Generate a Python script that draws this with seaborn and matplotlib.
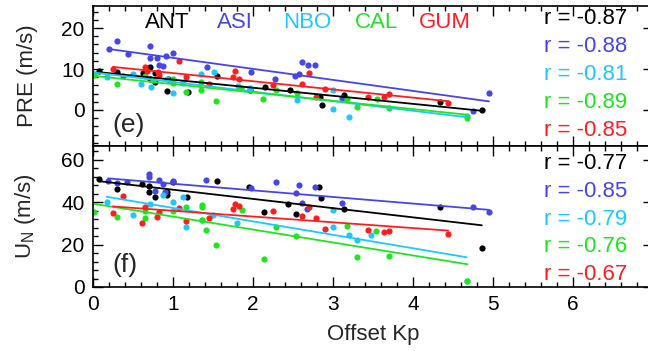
import numpy as np
import pandas as pd
import matplotlib
matplotlib.use("Agg")
import matplotlib.pyplot as plt
from matplotlib.ticker import MultipleLocator
import seaborn as sns

# ---------------- data ----------------
stations = ["ANT", "ASI", "NBO", "CAL", "GUM"]
colors = ["#000000", "#4646e6", "#1ec8ff", "#1ee61e", "#ff1e1e"]
r_pre = ["-0.87", "-0.88", "-0.81", "-0.89", "-0.85"]
r_un = ["-0.77", "-0.85", "-0.79", "-0.76", "-0.67"]

# panel (e): PRE (m/s) vs offset Kp
ant_e_x = [0.08, 0.30, 0.62, 0.71, 0.71, 0.78, 0.78, 0.93, 0.94, 1.19, 1.55, 1.96, 2.15, 2.46, 2.84, 2.86, 3.14, 4.34, 4.86]
ant_e_y = [9.5, 9.3, 9.1, 10.6, 7.5, 9.1, 6.9, 4.7, 7.5, 4.3, 8.4, 5.0, 5.7, 5.0, 3.2, 1.2, 3.7, 2.0, 0.0]
asi_e_x = [0.20, 0.30, 0.44, 0.71, 0.71, 0.80, 0.83, 0.88, 0.91, 1.00, 1.42, 1.98, 2.28, 2.53, 2.57, 2.61, 2.69, 2.78, 3.11, 4.75, 4.95]
asi_e_y = [14.8, 16.9, 13.7, 15.6, 12.6, 12.6, 11.1, 10.7, 13.2, 14.0, 10.6, 9.3, 7.6, 8.3, 8.8, 11.8, 11.0, 11.0, 2.9, -0.3, 4.2]
nbo_e_x = [0.01, 0.18, 0.50, 0.60, 0.72, 0.93, 1.00, 1.00, 1.13, 1.35, 1.51, 1.81, 1.96, 2.55, 3.00, 3.00, 3.20, 4.67]
nbo_e_y = [8.8, 8.1, 8.9, 6.3, 5.5, 7.5, 7.3, 4.2, 6.5, 8.9, 9.3, 5.9, 5.3, 2.5, 4.8, 0.2, -1.6, -1.5]
cal_e_x = [0.01, 0.30, 0.65, 0.75, 1.00, 1.00, 1.16, 1.35, 1.35, 1.54, 1.85, 2.13, 2.29, 2.55, 3.18, 3.30, 3.55, 3.70, 4.67]
cal_e_y = [8.5, 6.4, 8.4, 7.3, 6.5, 7.5, 4.5, 6.9, 4.9, 2.2, 5.4, 2.7, 5.0, 4.1, 2.6, 0.7, 2.7, 0.4, -2.0]
gum_e_x = [0.25, 0.37, 0.65, 0.67, 0.81, 0.83, 1.08, 1.16, 1.45, 1.75, 1.78, 1.83, 2.25, 2.61, 2.70, 2.79, 2.90, 3.44, 3.64, 3.70, 4.44]
gum_e_y = [10.1, 8.3, 10.4, 9.6, 9.3, 8.5, 11.9, 8.0, 6.3, 8.1, 9.5, 7.5, 6.2, 6.4, 9.0, 3.2, 5.1, 3.1, 3.2, 3.9, 1.6]

# panel (f): U_N (m/s) vs offset Kp
ant_f_x = [0.08, 0.30, 0.61, 0.70, 0.70, 0.78, 0.93, 0.93, 1.00, 1.18, 1.55, 1.95, 2.14, 2.44, 2.54, 2.83, 2.85, 3.14, 4.34, 4.86]
ant_f_y = [50.8, 46.1, 48.6, 47.6, 45.0, 42.6, 45.0, 43.5, 49.7, 42.6, 50.1, 47.0, 35.2, 39.2, 34.4, 47.0, 41.8, 36.6, 37.6, 18.5]
asi_f_x = [0.19, 0.30, 0.43, 0.70, 0.70, 0.78, 0.83, 0.87, 0.90, 1.00, 1.41, 1.97, 2.29, 2.54, 2.57, 2.61, 2.68, 2.77, 3.11, 4.75, 4.95]
asi_f_y = [50.1, 49.2, 49.7, 53.3, 51.7, 45.4, 50.5, 48.6, 45.0, 50.1, 50.5, 46.5, 49.7, 44.2, 48.1, 39.5, 36.6, 47.0, 39.8, 37.6, 35.5]
nbo_f_x = [0.17, 0.50, 0.71, 0.88, 1.00, 1.13, 1.16, 1.36, 1.50, 1.80, 3.00, 3.00, 3.20, 3.30, 3.48, 4.67]
nbo_f_y = [40.2, 34.0, 39.2, 43.4, 40.2, 42.6, 28.2, 31.6, 34.0, 30.3, 36.3, 28.2, 24.5, 22.2, 24.5, 3.0]
cal_f_x = [0.01, 0.30, 0.65, 0.65, 1.00, 1.16, 1.36, 1.36, 1.36, 1.41, 1.54, 1.86, 2.14, 2.29, 2.54, 3.18, 3.30, 3.54, 3.70, 4.68]
cal_f_y = [35.5, 32.9, 36.0, 32.4, 36.0, 37.6, 38.7, 37.6, 31.6, 26.9, 19.8, 36.3, 13.1, 28.2, 24.1, 28.8, 14.3, 26.6, 14.6, 3.0]
gum_f_x = [0.25, 0.37, 0.61, 0.65, 0.80, 0.83, 1.08, 1.16, 1.45, 1.75, 1.78, 1.83, 2.25, 2.61, 2.70, 2.79, 2.90, 3.44, 3.64, 3.70, 4.44]
gum_f_y = [35.1, 42.9, 30.0, 37.9, 32.9, 35.5, 37.1, 31.3, 32.4, 36.6, 39.2, 38.2, 36.0, 33.5, 37.9, 32.4, 27.2, 26.9, 26.1, 26.6, 24.8]


def build(pairs):
    frames = []
    for st, (xs, ys) in zip(stations, pairs):
        frames.append(pd.DataFrame({"kp": xs, "v": ys, "station": st}))
    return pd.concat(frames, ignore_index=True)


df_e = build([(ant_e_x, ant_e_y), (asi_e_x, asi_e_y), (nbo_e_x, nbo_e_y),
              (cal_e_x, cal_e_y), (gum_e_x, gum_e_y)])
df_f = build([(ant_f_x, ant_f_y), (asi_f_x, asi_f_y), (nbo_f_x, nbo_f_y),
              (cal_f_x, cal_f_y), (gum_f_x, gum_f_y)])

# ---------------- style ----------------
sns.set_theme(style="ticks")
plt.rcParams["font.family"] = ["Liberation Sans", "DejaVu Sans"]
plt.rcParams["mathtext.fontset"] = "custom"
plt.rcParams["mathtext.rm"] = "Liberation Sans"
plt.rcParams["mathtext.it"] = "Liberation Sans:italic"

W, H = 648, 351
fig = plt.figure(figsize=(W / 100, H / 100), dpi=100)
ax_e = fig.add_axes([93 / W, 1 - 146 / H, 560 / W, 140 / H])
ax_f = fig.add_axes([93 / W, 1 - 287 / H, 560 / W, 141 / H])


def draw(ax, df):
    for st, c in zip(stations, colors):
        sub = df[df["station"] == st]
        sns.regplot(data=sub, x="kp", y="v", ax=ax, ci=None, color=c,
                    scatter_kws=dict(s=20, linewidths=0, alpha=1),
                    line_kws=dict(lw=1.3))


draw(ax_e, df_e)
draw(ax_f, df_f)

for ax in (ax_e, ax_f):
    ax.set_xlim(0, 7)
    ax.xaxis.set_major_locator(MultipleLocator(1))
    ax.xaxis.set_minor_locator(MultipleLocator(0.2))
    ax.tick_params(which="both", direction="in", top=True, right=True,
                   labelsize=15, width=1, colors="black", pad=6)
    ax.tick_params(which="major", length=7)
    ax.tick_params(which="minor", length=3.5)
    for sp in ax.spines.values():
        sp.set_linewidth(1.2)
        sp.set_color("black")
        sp.set_visible(True)
    ax.set_facecolor("white")

ax_e.set_ylim(-8.8, 25.4)
ax_e.yaxis.set_major_locator(MultipleLocator(10))
ax_e.yaxis.set_minor_locator(MultipleLocator(2))
ax_e.tick_params(labelbottom=False)
ax_e.set_xlabel("")
ax_e.set_ylabel("PRE (m/s)", fontsize=16)
ax_e.yaxis.set_label_coords(-0.098, 0.5)

ax_f.set_ylim(0, 66.5)
ax_f.yaxis.set_major_locator(MultipleLocator(20))
ax_f.yaxis.set_minor_locator(MultipleLocator(4))
ax_f.set_xlabel("Offset Kp", fontsize=16, labelpad=7)
ax_f.set_ylabel(r"U$_\mathrm{N}$ (m/s)", fontsize=16)
ax_f.yaxis.set_label_coords(-0.098, 0.5)

# station names (panel e)
name_x = [0.132, 0.254, 0.382, 0.507, 0.629]
for st, c, xx in zip(stations, colors, name_x):
    ax_e.text(xx, 0.885, st, color=c, fontsize=16, ha="center", va="center",
              transform=ax_e.transAxes)

# correlation coefficients
rows_e = [0.914, 0.714, 0.514, 0.314, 0.114]
rows_f = [0.879, 0.677, 0.478, 0.284, 0.088]
for r, c, yy in zip(r_pre, colors, rows_e):
    ax_e.text(0.954, yy, "r = " + r, color=c, fontsize=16, ha="right",
              va="center", transform=ax_e.transAxes)
for r, c, yy in zip(r_un, colors, rows_f):
    ax_f.text(0.954, yy, "r = " + r, color=c, fontsize=16, ha="right",
              va="center", transform=ax_f.transAxes)

ax_e.text(0.034, 0.15, "(e)", fontsize=19, ha="left", va="center",
          transform=ax_e.transAxes)
ax_f.text(0.034, 0.155, "(f)", fontsize=19, ha="left", va="center",
          transform=ax_f.transAxes)

fig.savefig("out.png", dpi=100, facecolor="white")
